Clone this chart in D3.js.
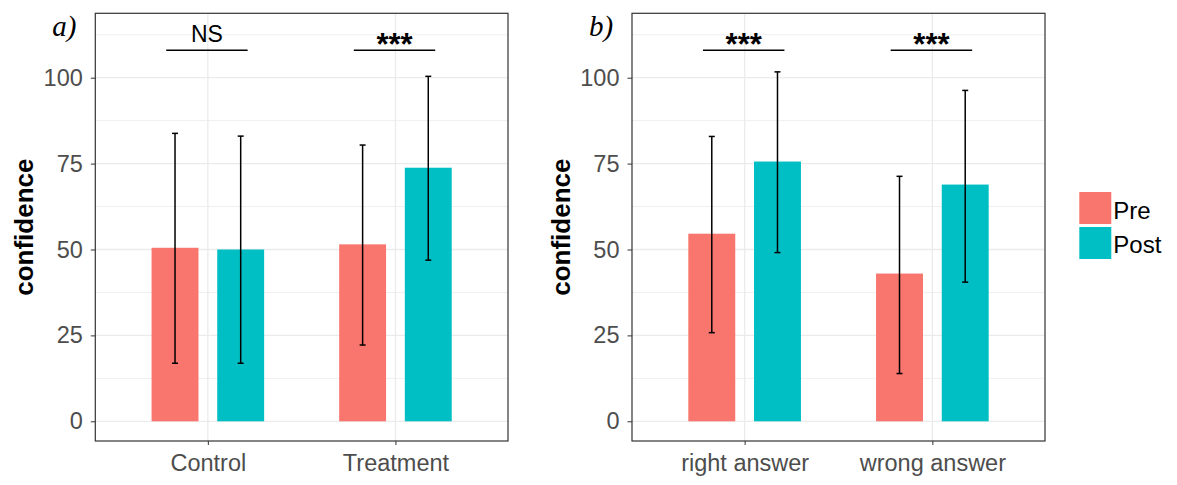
<!DOCTYPE html>
<html>
<head>
<meta charset="utf-8">
<script src="https://cdn.jsdelivr.net/npm/d3@7"></script>
<style>
  body { margin: 0; background: #fff; }
  svg { display: block; font-family: "Liberation Sans", Arial, sans-serif; }
  .tick text { fill: #4d4d4d; font-size: 23.5px; }
  .tick line { stroke: #333; }
</style>
</head>
<body>
<div id="chart-area"></div>
<script>
// values

const phases = ["Pre", "Post"];
const phaseColors = ["#F8766D", "#00BFC4"];
const yTicks = [0, 25, 50, 75, 100];
const yMinor = [12.5, 37.5, 62.5, 87.5, 112.5];

// panel a
const groupsA = ["Control", "Treatment"];
const meanPreA = [50.5, 51.5];
const meanPostA = [50.0, 73.8];
const lowPreA = [16.9, 22.2];
const highPreA = [83.8, 80.4];
const lowPostA = [16.9, 46.9];
const highPostA = [83.0, 100.4];
const sigA = ["NS", "***"];

// panel b
const groupsB = ["right answer", "wrong answer"];
const meanPreB = [54.6, 43.0];
const meanPostB = [75.6, 68.9];
const lowPreB = [25.8, 13.9];
const highPreB = [82.9, 71.3];
const lowPostB = [49.1, 40.5];
const highPostB = [101.7, 96.3];
const sigB = ["***", "***"];

const sigLevel = 108;
const sigTextLevel = 110.5;

let W = 1177, H = 485;
let panelTop = 13.3, panelBottom = 441;

let svg = d3
  .select("#chart-area")
  .append("svg")
  .attr("width", W)
  .attr("height", H);

// shared y scale (0 -> 421.3px, 100 -> 77.7px)
let y = d3.scaleLinear().domain([0, 100]).range([421.3, 77.7]);

function drawPanel(opts) {
  let left = opts.left, right = opts.right;
  let g = svg.append("g");

  let x = d3.scalePoint().domain(opts.groups).range([left, right]).padding(0.6);
  let unit = x.step();
  let barW = 0.25 * unit;
  let dodge = 0.175 * unit;

  // grid
  g.selectAll(".minor")
    .data(yMinor)
    .enter()
    .append("line")
    .attr("x1", left).attr("x2", right)
    .attr("y1", (d) => y(d)).attr("y2", (d) => y(d))
    .attr("stroke", "#ebebeb").attr("stroke-width", 0.8);
  g.selectAll(".major")
    .data(yTicks)
    .enter()
    .append("line")
    .attr("x1", left).attr("x2", right)
    .attr("y1", (d) => y(d)).attr("y2", (d) => y(d))
    .attr("stroke", "#ebebeb").attr("stroke-width", 1.3);
  g.selectAll(".vgrid")
    .data(opts.groups)
    .enter()
    .append("line")
    .attr("x1", (d) => x(d)).attr("x2", (d) => x(d))
    .attr("y1", panelTop).attr("y2", panelBottom)
    .attr("stroke", "#ebebeb").attr("stroke-width", 1.3);

  let rows = [];
  opts.groups.forEach((grp, i) => {
    rows.push({ grp, p: 0, mean: opts.pre[i], lo: opts.lowPre[i], hi: opts.highPre[i] });
    rows.push({ grp, p: 1, mean: opts.post[i], lo: opts.lowPost[i], hi: opts.highPost[i] });
  });
  let cx = (d) => x(d.grp) + (d.p === 0 ? -dodge : dodge);

  // ---- bars ----
  g.selectAll(".bar")
    .data(rows)
    .enter()
    .append("rect")
    .attr("x", (d) => cx(d) - barW / 2)
    .attr("y", (d) => y(d.mean))
    .attr("width", barW)
    .attr("height", (d) => y(0) - y(d.mean))
    .attr("fill", (d) => phaseColors[d.p]);

  // ---- error bars ----
  let eb = g.selectAll(".err").data(rows).enter().append("g");
  eb.append("line")
    .attr("x1", cx).attr("x2", cx)
    .attr("y1", (d) => y(d.lo)).attr("y2", (d) => y(d.hi));
  eb.append("line")
    .attr("x1", (d) => cx(d) - 3).attr("x2", (d) => cx(d) + 3)
    .attr("y1", (d) => y(d.lo)).attr("y2", (d) => y(d.lo));
  eb.append("line")
    .attr("x1", (d) => cx(d) - 3).attr("x2", (d) => cx(d) + 3)
    .attr("y1", (d) => y(d.hi)).attr("y2", (d) => y(d.hi));
  eb.selectAll("line").attr("stroke", "#000").attr("stroke-width", 1.5);

  // ---- significance ----
  opts.groups.forEach((grp, i) => {
    let x1 = x(grp) - 0.222 * unit, x2 = x(grp) + 0.212 * unit;
    g.append("line")
      .attr("x1", x1).attr("x2", x2)
      .attr("y1", y(sigLevel)).attr("y2", y(sigLevel))
      .attr("stroke", "#000").attr("stroke-width", 1.5);
    let isStars = opts.sig[i] === "***";
    g.append("text")
      .attr("x", (x1 + x2) / 2)
      .attr("y", isStars ? y(sigTextLevel) + 13 : y(sigTextLevel))
      .attr("text-anchor", "middle")
      .attr("font-size", isStars ? 31 : 23)
      .attr("font-weight", isStars ? "bold" : "normal")
      .attr("fill", "#000")
      .text(opts.sig[i]);
  });

  // panel border
  g.append("rect")
    .attr("x", left).attr("y", panelTop)
    .attr("width", right - left).attr("height", panelBottom - panelTop)
    .attr("fill", "none").attr("stroke", "#333").attr("stroke-width", 1.2);

  // ---- axes ----
  let yAxis = d3.axisLeft(y).tickValues(yTicks).tickSize(4.5).tickPadding(8);
  g.append("g")
    .attr("transform", "translate(" + left + ",0)")
    .call(yAxis)
    .call((a) => a.select(".domain").remove());

  let xAxis = d3.axisBottom(x).tickSize(4).tickPadding(9.2);
  g.append("g")
    .attr("transform", "translate(0," + panelBottom + ")")
    .call(xAxis)
    .call((a) => a.select(".domain").remove());

  // y title
  g.append("text")
    .attr("transform", "translate(" + (left - 62) + "," + (panelTop + panelBottom) / 2 + ") rotate(-90)")
    .attr("text-anchor", "middle")
    .attr("font-size", 26)
    .attr("font-weight", "bold")
    .attr("fill", "#000")
    .text("confidence");

  // panel letter
  g.append("text")
    .attr("x", left - 43)
    .attr("y", 36)
    .attr("font-family", "'Liberation Serif', 'Times New Roman', serif")
    .attr("font-style", "italic")
    .attr("font-size", 29)
    .attr("fill", "#000")
    .text(opts.letter);
}

drawPanel({
  left: 95.3, right: 508, groups: groupsA, letter: "a)",
  pre: meanPreA, post: meanPostA,
  lowPre: lowPreA, highPre: highPreA, lowPost: lowPostA, highPost: highPostA,
  sig: sigA,
});

drawPanel({
  left: 632, right: 1045, groups: groupsB, letter: "b)",
  pre: meanPreB, post: meanPostB,
  lowPre: lowPreB, highPre: highPreB, lowPost: lowPostB, highPost: highPostB,
  sig: sigB,
});

// ---- legend ----
let legend = svg.append("g").attr("transform", "translate(1079.3,192)");
legend.selectAll("rect")
  .data(phases)
  .enter()
  .append("rect")
  .attr("x", 0)
  .attr("y", (d, i) => i * 35)
  .attr("width", 32)
  .attr("height", 32)
  .attr("fill", (d, i) => phaseColors[i]);
legend.selectAll("text")
  .data(phases)
  .enter()
  .append("text")
  .attr("x", 34)
  .attr("y", (d, i) => 27 + i * 34)
  .attr("font-size", 24)
  .attr("fill", "#000")
  .text((d) => d);
</script>
</body>
</html>
